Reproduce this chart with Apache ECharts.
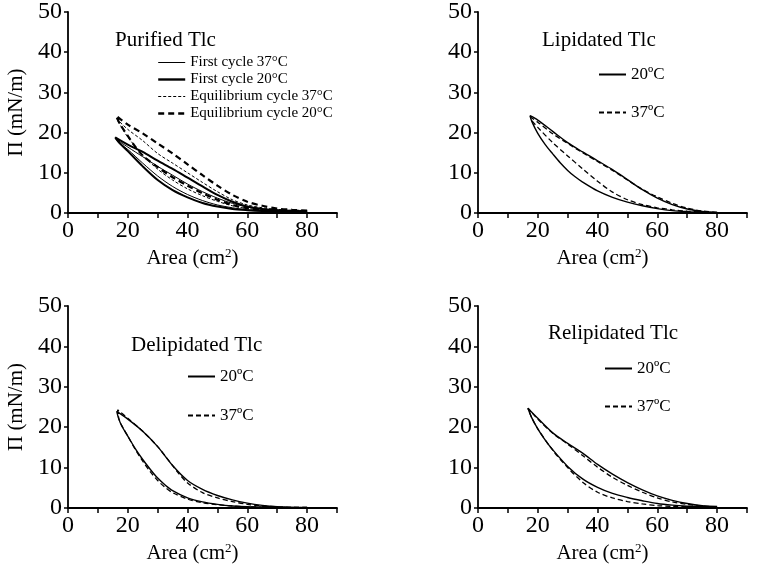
<!DOCTYPE html>
<html>
<head>
<meta charset="utf-8">
<script src="https://cdn.jsdelivr.net/npm/echarts@6/dist/echarts.min.js"></script>
<style>
html, body { margin: 0; padding: 0; background: #fff; }
#chart { width: 759px; height: 573px; }
</style>
</head>
<body>
<div id="chart"></div>
<script>
// tick labels
var xTicks = [0, 20, 40, 60, 80];
var yTicks = [0, 10, 20, 30, 40, 50];

// Purified Tlc: [area, pressure], each branch listed by increasing area
var purFirst37Up = [[16,18.4],[20,16.4],[25,14.0],[30,11.6],[35,9.4],[40,7.2],[45,5.3],[50,3.7],[55,2.4],[60,1.5],[65,0.9],[70,0.6],[75,0.5],[80,0.4]];
var purFirst37Low = [[16,18.4],[17,17.5],[20,15.8],[25,12.4],[30,9.2],[35,6.6],[40,4.6],[45,3.1],[50,2.0],[55,1.3],[60,0.8],[65,0.5],[70,0.4],[80,0.3]];
var purFirst20Up = [[15.8,18.8],[20,17.0],[25,15.2],[30,13.0],[35,11.0],[40,8.8],[45,6.6],[50,4.5],[55,2.8],[60,1.6],[65,1.0],[70,0.7],[75,0.5],[80,0.4]];
var purFirst20Low = [[15.8,18.8],[17,17.6],[20,15.4],[25,11.6],[30,8.2],[35,5.7],[40,3.9],[45,2.5],[50,1.6],[55,1.0],[60,0.7],[65,0.5],[70,0.4],[80,0.3]];
var purEq37Up = [[16.3,23.4],[20,20.8],[25,18.0],[30,14.8],[35,12.4],[40,10.0],[45,7.6],[50,5.3],[55,3.3],[60,2.0],[65,1.3],[70,0.9],[75,0.7],[80,0.6]];
var purEq37Low = [[16.3,23.4],[18,21.2],[20,18.9],[25,14.4],[30,10.9],[35,8.2],[40,6.0],[45,4.3],[50,2.9],[55,1.8],[60,1.1],[65,0.8],[70,0.6],[80,0.5]];
var purEq20Up = [[16.1,24.2],[20,22.0],[25,19.8],[30,17.3],[35,14.8],[40,12.1],[45,9.4],[50,6.8],[55,4.5],[60,2.8],[65,1.8],[70,1.1],[75,0.8],[80,0.6]];
var purEq20Low = [[16.1,24.2],[17.4,22.1],[20,19.2],[22,17.0],[25,14.3],[30,11.4],[35,8.9],[40,6.8],[45,4.9],[50,3.3],[55,2.0],[60,1.2],[65,0.8],[70,0.6],[80,0.5]];

// Lipidated Tlc
var lip20Up = [[17.4,24.2],[20,23.1],[25,20.3],[30,17.5],[35,15.2],[40,13.0],[45,10.8],[50,8.3],[55,5.8],[60,3.7],[65,2.1],[70,1.0],[75,0.4],[80,0.15]];
var lip20Low = [[17.4,24.2],[18,22.8],[20,19.8],[22.5,17.0],[25,14.7],[27.5,12.5],[30,10.6],[32.5,9.0],[35,7.7],[40,5.5],[45,3.9],[50,2.7],[55,1.8],[60,1.1],[65,0.6],[70,0.35],[75,0.2],[80,0.1]];
var lip37Up = [[17.6,23.8],[20,22.6],[25,19.7],[30,17.3],[35,15.0],[40,12.8],[45,10.6],[50,8.2],[55,5.9],[60,4.0],[65,2.4],[70,1.2],[75,0.5],[80,0.15]];
var lip37Low = [[17.6,23.8],[18,23.0],[20,21.3],[25,17.5],[30,14.2],[35,11.0],[40,7.9],[45,5.2],[50,3.3],[55,2.1],[60,1.3],[65,0.8],[70,0.45],[75,0.25],[80,0.1]];

// Delipidated Tlc
var del20Up = [[16.3,23.9],[20,22.0],[25,19.0],[30,15.2],[35,10.5],[40,6.8],[45,4.6],[50,3.1],[55,2.0],[60,1.2],[65,0.65],[70,0.3],[75,0.15],[80,0.1]];
var del20Low = [[16.3,23.9],[17,22.0],[18,20.3],[20,17.8],[22.5,14.7],[25,12.0],[27.5,9.6],[30,7.4],[32.5,5.7],[35,4.3],[40,2.5],[45,1.5],[50,0.9],[55,0.5],[60,0.3],[70,0.15],[80,0.1]];
var del37Up = [[16.6,24.3],[20,22.2],[25,19.0],[30,15.2],[35,10.5],[37,8.6],[40,6.2],[45,3.8],[50,2.5],[55,1.6],[60,0.9],[65,0.5],[70,0.3],[75,0.2],[80,0.2]];
var del37Low = [[16.6,24.3],[17,22.2],[18,20.4],[20,17.8],[22.5,14.5],[25,11.6],[27.5,9.0],[30,6.8],[32.5,5.1],[35,3.8],[40,2.2],[45,1.3],[50,0.8],[55,0.5],[60,0.3],[70,0.2],[80,0.15]];

// Relipidated Tlc
var rel20Up = [[16.7,24.7],[20,22.2],[25,18.6],[30,16.0],[35,13.6],[40,10.8],[45,8.4],[50,6.3],[55,4.5],[60,3.0],[65,1.9],[70,1.1],[75,0.6],[80,0.4]];
var rel20Low = [[16.7,24.7],[18,22.3],[20,19.6],[22.5,16.8],[25,14.4],[30,10.3],[35,7.2],[40,5.1],[45,3.6],[50,2.6],[55,1.8],[60,1.1],[65,0.7],[70,0.45],[75,0.3],[80,0.25]];
var rel37Up = [[16.7,24.7],[20,22.0],[25,18.5],[30,15.8],[35,13.0],[40,10.1],[45,7.6],[50,5.6],[55,3.9],[60,2.5],[65,1.5],[70,0.9],[75,0.5],[80,0.3]];
var rel37Low = [[16.7,24.7],[18,22.3],[20,19.6],[25,14.3],[30,10.0],[35,6.4],[40,3.9],[45,2.5],[50,1.6],[55,1.0],[60,0.6],[65,0.4],[70,0.3],[80,0.2]];

var font = 'Liberation Serif';
var grids = [
    { left: 68, top: 11, width: 269, height: 202 },
    { left: 478, top: 11, width: 269, height: 202 },
    { left: 68, top: 306, width: 269, height: 202 },
    { left: 478, top: 306, width: 269, height: 202 }
];

// compression branch runs from large to small area, expansion back
function loop(up, low) {
    return up.slice().reverse().concat(low.slice(1));
}

function xAxisFor(i) {
    return {
        type: 'value', gridIndex: i, min: 0, max: 90, interval: 10,
        name: 'Area (cm{sup|2})', nameLocation: 'middle', nameGap: 34,
        nameTextStyle: { fontFamily: font, fontSize: 21, color: '#000', padding: [0, 20, 0, 0],
            rich: { sup: { fontFamily: font, fontSize: 13, verticalAlign: 'top', padding: [0, 0, 10, 0] } } },
        axisLine: { lineStyle: { color: '#000', width: 1.8 } },
        axisTick: { length: 5, lineStyle: { color: '#000', width: 1.5 } },
        axisLabel: { fontFamily: font, fontSize: 24, color: '#000', margin: 6,
            formatter: function (v) { return xTicks.indexOf(v) >= 0 ? String(v) : ''; } },
        splitLine: { show: false }
    };
}

function yAxisFor(i, named) {
    return {
        type: 'value', gridIndex: i, min: 0, max: 50, interval: 10,
        name: named ? 'Π (mN/m)' : '', nameLocation: 'middle', nameGap: 41,
        nameTextStyle: { fontFamily: font, fontSize: 21, color: '#000' },
        axisLine: { lineStyle: { color: '#000', width: 1.8 } },
        axisTick: { length: 4, lineStyle: { color: '#000', width: 1.5 } },
        axisLabel: { fontFamily: font, fontSize: 24, color: '#000', margin: 6,
            formatter: function (v) { return yTicks.indexOf(v) >= 0 ? String(v) : ''; } },
        splitLine: { show: false }
    };
}

function curve(name, i, up, low, width, dash) {
    return {
        type: 'line', name: name, xAxisIndex: i, yAxisIndex: i,
        data: loop(up, low), symbol: 'none', smooth: 0.3,
        lineStyle: { color: '#000', width: width, type: dash || 'solid' },
        itemStyle: { color: '#000' }
    };
}

// legend samples keep the width of their curves
function entry(name, width, dash) {
    return { name: name, lineStyle: { width: width, type: dash || 'solid', color: '#000' } };
}

function legendAt(left, top, items, size, gap) {
    return {
        orient: 'vertical', left: left, top: top, data: items,
        itemWidth: 27, itemHeight: size, itemGap: gap, padding: 0,
        selectedMode: false,
        itemStyle: { opacity: 0 },
        textStyle: { fontFamily: font, fontSize: size, color: '#000' }
    };
}

function titleAt(text, left, top) {
    return { text: text, left: left, top: top, padding: 0,
        textStyle: { fontFamily: font, fontSize: 21, fontWeight: 'normal', color: '#000' } };
}

var pairItems = [entry('20ºC', 2), entry('37ºC', 2, [5, 3])];

var option = {
    animation: false,
    backgroundColor: '#fff',
    title: [
        titleAt('Purified Tlc', 115, 30),
        titleAt('Lipidated Tlc', 542, 30),
        titleAt('Delipidated Tlc', 131, 335),
        titleAt('Relipidated Tlc', 548, 323)
    ],
    legend: [
        legendAt(157, 55, [
            entry('First cycle 37°C', 1),
            entry('First cycle 20°C', 2.4),
            entry('Equilibrium cycle 37°C', 1.2, [3, 2]),
            entry('Equilibrium cycle 20°C', 2.4, [6, 4])
        ], 15, 2),
        legendAt(598, 66, pairItems, 17, 21),
        legendAt(187, 368, pairItems, 17, 22),
        legendAt(604, 360, pairItems, 17, 21)
    ],
    grid: grids,
    xAxis: [xAxisFor(0), xAxisFor(1), xAxisFor(2), xAxisFor(3)],
    yAxis: [yAxisFor(0, true), yAxisFor(1, false), yAxisFor(2, true), yAxisFor(3, false)],
    series: [
        curve('First cycle 37°C', 0, purFirst37Up, purFirst37Low, 1),
        curve('First cycle 20°C', 0, purFirst20Up, purFirst20Low, 2),
        curve('Equilibrium cycle 37°C', 0, purEq37Up, purEq37Low, 1, [3, 2]),
        curve('Equilibrium cycle 20°C', 0, purEq20Up, purEq20Low, 2.2, [6, 4]),
        curve('20ºC', 1, lip20Up, lip20Low, 1.4),
        curve('37ºC', 1, lip37Up, lip37Low, 1.3, [5, 3]),
        curve('20ºC', 2, del20Up, del20Low, 1.4),
        curve('37ºC', 2, del37Up, del37Low, 1.3, [5, 3]),
        curve('20ºC', 3, rel20Up, rel20Low, 1.4),
        curve('37ºC', 3, rel37Up, rel37Low, 1.3, [5, 3])
    ]
};

var chart = echarts.init(document.getElementById('chart'));
chart.setOption(option);
window.addEventListener('resize', function () {
    chart.resize();
});
</script>
</body>
</html>
